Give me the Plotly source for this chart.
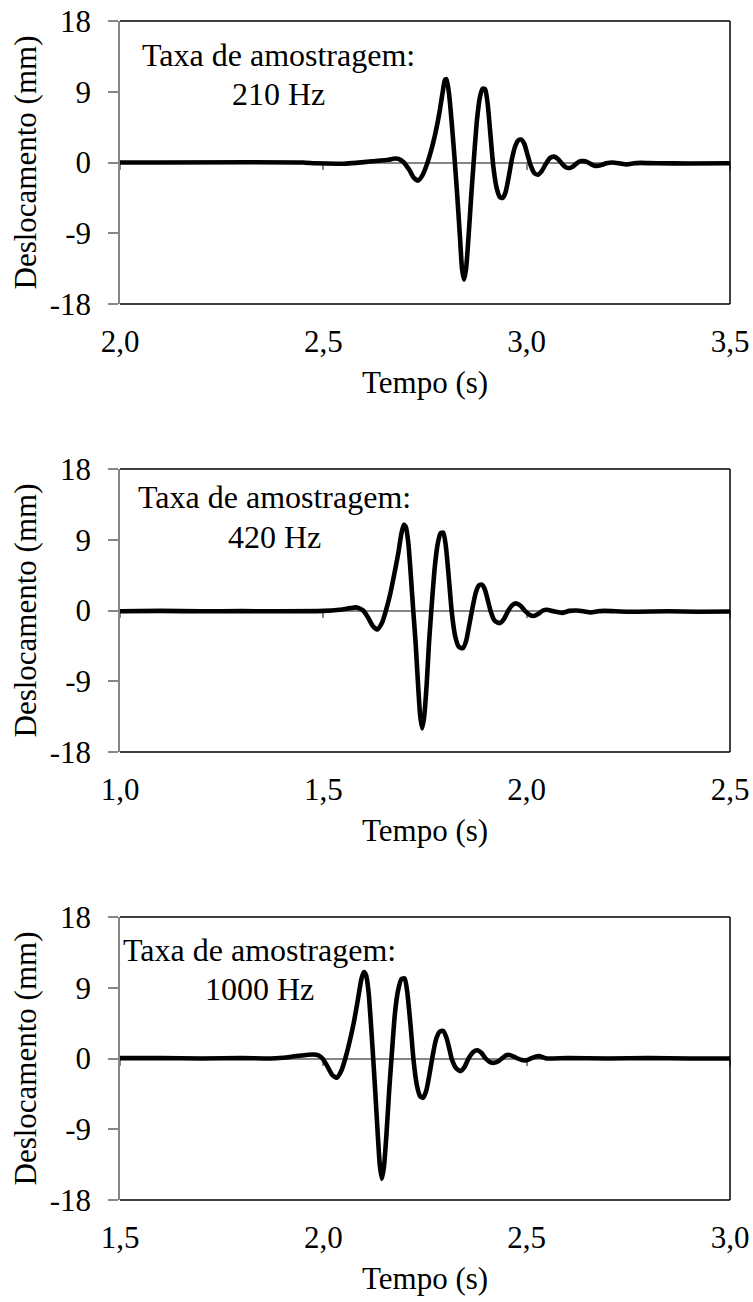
import plotly.graph_objects as go

# ---------------- data ----------------
t_210 = [2.00, 2.45, 2.48, 2.55, 2.58, 2.62, 2.66, 2.675, 2.685, 2.698, 2.712, 2.722, 2.733,
         2.744, 2.755, 2.765, 2.775, 2.785, 2.793, 2.799, 2.803, 2.809, 2.815, 2.822, 2.829,
         2.836, 2.841, 2.846, 2.851, 2.857, 2.864, 2.871, 2.878, 2.885, 2.892, 2.898, 2.904,
         2.911, 2.918, 2.926, 2.934, 2.941, 2.948, 2.956, 2.964, 2.972, 2.980, 2.987, 2.994,
         3.002, 3.010, 3.019, 3.028, 3.037, 3.047, 3.057, 3.067, 3.077, 3.086, 3.096, 3.105,
         3.114, 3.123, 3.132, 3.140, 3.149, 3.158, 3.167, 3.176, 3.185, 3.196, 3.211, 3.228,
         3.246, 3.264, 3.28, 3.32, 3.40, 3.50]
d_210 = [0.0, 0.0, -0.1, -0.15, -0.05, 0.15, 0.35, 0.5, 0.45, 0.0, -1.0, -1.9, -2.3,
         -1.6, -0.2, 1.5, 3.6, 6.2, 8.8, 10.5, 10.6, 8.8, 5.5, 1.0, -4.0,
         -9.5, -13.5, -14.9, -13.5, -9.5, -4.0, 1.0, 5.5, 8.3, 9.4, 9.3, 7.5,
         3.5, -0.5, -3.2, -4.4, -4.5, -3.8, -1.8, 0.5, 2.1, 2.85, 2.9, 2.4,
         1.0, -0.4, -1.35, -1.55, -1.1, -0.2, 0.55, 0.75, 0.45, -0.1, -0.6, -0.7,
         -0.5, -0.1, 0.15, 0.17, 0.05, -0.2, -0.4, -0.42, -0.3, -0.1, 0.0, -0.1,
         -0.25, -0.1, -0.05, -0.1, -0.12, -0.1]

t_420 = [1.00, 1.10, 1.20, 1.30, 1.40, 1.50, 1.54, 1.565, 1.580, 1.590, 1.598, 1.610, 1.622,
         1.633, 1.644, 1.654, 1.664, 1.674, 1.684, 1.692, 1.698, 1.703, 1.709, 1.714, 1.720,
         1.727, 1.733, 1.738, 1.743, 1.748, 1.754, 1.760, 1.767, 1.774, 1.781, 1.788, 1.795,
         1.801, 1.808, 1.816, 1.824, 1.833, 1.843, 1.851, 1.859, 1.867, 1.875, 1.883, 1.890,
         1.897, 1.905, 1.912, 1.921, 1.934, 1.944, 1.955, 1.965, 1.975, 1.985, 1.995, 2.006,
         2.017, 2.028, 2.040, 2.050, 2.066, 2.087, 2.105, 2.123, 2.140, 2.158, 2.175, 2.19,
         2.25, 2.35, 2.42, 2.50]
d_420 = [-0.1, -0.05, -0.1, -0.08, -0.1, -0.05, 0.1, 0.3, 0.4, 0.25, 0.0, -0.9, -2.0,
         -2.4, -1.6, 0.0, 2.0, 4.5, 7.2, 9.8, 10.9, 10.6, 8.6, 5.3, 0.8,
         -4.2, -9.5, -13.3, -15.0, -13.5, -9.5, -4.0, 1.0, 5.5, 8.4, 9.8, 9.9,
         8.3, 4.5, -0.3, -3.2, -4.6, -4.8, -3.9, -1.8, 0.4, 2.3, 3.2, 3.3,
         2.7, 1.2, -0.2, -1.3, -1.6, -1.1, 0.0, 0.7, 0.9, 0.6, 0.0, -0.5,
         -0.7, -0.45, 0.0, 0.1, -0.1, -0.3, -0.05, 0.0, -0.1, -0.25, -0.1, -0.05,
         -0.15, -0.1, -0.15, -0.12]

t_1000 = [1.50, 1.60, 1.70, 1.80, 1.87, 1.90, 1.94, 1.975, 1.988, 1.998, 2.010, 2.022, 2.033,
          2.044, 2.054, 2.064, 2.075, 2.085, 2.094, 2.100, 2.105, 2.111, 2.116, 2.122, 2.128,
          2.134, 2.139, 2.144, 2.149, 2.155, 2.162, 2.169, 2.176, 2.184, 2.192, 2.200, 2.206,
          2.214, 2.222, 2.230, 2.238, 2.245, 2.253, 2.261, 2.269, 2.277, 2.286, 2.295, 2.303,
          2.310, 2.316, 2.326, 2.337, 2.347, 2.357, 2.368, 2.379, 2.389, 2.399, 2.410, 2.420,
          2.430, 2.440, 2.449, 2.458, 2.468, 2.478, 2.488, 2.497, 2.506, 2.515, 2.523, 2.531,
          2.540, 2.55, 2.60, 2.70, 2.80, 2.90, 3.00]
d_1000 = [0.05, 0.05, 0.0, 0.05, 0.0, 0.1, 0.35, 0.5, 0.4, 0.0, -1.0, -2.1, -2.45,
          -1.6, 0.0, 2.0, 4.6, 7.5, 10.2, 11.0, 10.6, 8.6, 5.2, 0.5, -4.5,
          -9.8, -13.6, -15.3, -13.8, -9.8, -4.0, 1.0, 5.7, 8.7, 10.1, 10.2, 8.6,
          4.5, -0.3, -3.4, -4.8, -5.0, -4.1, -2.0, 0.4, 2.4, 3.4, 3.5, 2.6,
          1.2, -0.1, -1.2, -1.6, -1.1, 0.0, 0.8, 1.05, 0.7, 0.0, -0.45, -0.55,
          -0.35, 0.05, 0.4, 0.45, 0.25, 0.0, -0.2, -0.25, -0.1, 0.1, 0.25, 0.3,
          0.15, 0.0, 0.05, 0.0, 0.05, 0.0, 0.0]

x_starts = [2.0, 1.0, 1.5]
rates = ["210 Hz", "420 Hz", "1000 Hz"]
y_ticks = [-18, -9, 0, 9, 18]
y_ticktext = ["-18", "-9", "0", "9", "18"]
x_title = "Tempo (s)"
y_title = "Deslocamento (mm)"
note = "Taxa de amostragem:"

series = [(t_210, d_210), (t_420, d_420), (t_1000, d_1000)]

# ---------------- layout geometry ----------------
W, H = 753, 1302
FONT = "Liberation Serif, Times New Roman, serif"
FS = 31
GREY = "#868686"
xl, xr = 120, 730
tops = [21, 469, 917]
panel_h = 283
note_pos = [(278, 55, 94), (274, 497, 537), (259, 950, 989)]

fig = go.Figure()
layout = dict(
    width=W, height=H, margin=dict(l=0, r=0, t=0, b=0),
    paper_bgcolor="white", plot_bgcolor="white", template="none",
    showlegend=False, font=dict(family=FONT, size=FS, color="black"),
    annotations=[], shapes=[],
)

for k in range(3):
    top = tops[k]
    bot = top + panel_h
    mid = (top + bot) / 2
    ydom = [1 - bot / H, 1 - top / H]
    zero_frac = 1 - mid / H
    x0 = x_starts[k]
    xvals = [round(x0 + 0.5 * i, 1) for i in range(4)]
    xtext = [f"{v:.1f}".replace(".", ",") for v in xvals]
    sfx = "" if k == 0 else str(k + 1)

    t, d = series[k]
    fig.add_trace(go.Scatter(
        x=t, y=d, mode="lines", xaxis="x" + sfx, yaxis="y" + sfx,
        line=dict(color="black", width=4.6, shape="spline", smoothing=0.6),
        hoverinfo="skip"))

    layout["xaxis" + sfx] = dict(
        domain=[xl / W, xr / W], anchor="free", position=zero_frac,
        range=[x0, x0 + 1.5], tickvals=xvals, ticktext=xtext,
        ticks="outside", ticklen=7, tickcolor=GREY, tickwidth=1.5,
        showline=True, linecolor=GREY, linewidth=1.5, showgrid=False,
        zeroline=False, automargin=False, layer="below traces",
        ticklabelstandoff=int(bot - mid) + 4,
        tickfont=dict(family=FONT, size=FS, color="black"),
    )
    layout["yaxis" + sfx] = dict(
        domain=ydom, anchor="x" + sfx, range=[-18, 18],
        tickvals=y_ticks, ticktext=y_ticktext,
        ticks="outside", ticklen=10, tickcolor=GREY, tickwidth=1.5,
        showline=True, linecolor=GREY, linewidth=1.5, showgrid=False,
        zeroline=False, automargin=False, layer="below traces",
        ticklabelstandoff=11,
        tickfont=dict(family=FONT, size=FS, color="black"),
    )
    xr_ref = "x" + sfx + " domain"
    yr_ref = "y" + sfx + " domain"
    for (a, b, c, e) in [(0, 1, 1, 1), (1, 0, 1, 1), (0, 0, 1, 0)]:
        layout["shapes"].append(dict(
            type="line", xref=xr_ref, yref=yr_ref, x0=a, y0=b, x1=c, y1=e,
            line=dict(color="black", width=1.5), layer="above"))

    cx, y1, y2 = note_pos[k]
    layout["annotations"].append(dict(
        text=note, x=cx / W, y=1 - y1 / H, xref="paper", yref="paper",
        showarrow=False, xanchor="center", yanchor="middle",
        font=dict(family=FONT, size=32, color="black")))
    layout["annotations"].append(dict(
        text=rates[k], x=cx / W, y=1 - y2 / H, xref="paper", yref="paper",
        showarrow=False, xanchor="center", yanchor="middle",
        font=dict(family=FONT, size=32, color="black")))
    layout["annotations"].append(dict(
        text=x_title, x=(xl + xr) / 2 / W, y=1 - (bot + 78) / H,
        xref="paper", yref="paper", showarrow=False,
        xanchor="center", yanchor="middle",
        font=dict(family=FONT, size=FS, color="black")))
    layout["annotations"].append(dict(
        text=y_title, x=25 / W, y=1 - mid / H, xref="paper", yref="paper",
        showarrow=False, textangle=-90, xanchor="center", yanchor="middle",
        font=dict(family=FONT, size=FS, color="black")))

fig.update_layout(**layout)
fig.write_html("out.html")
